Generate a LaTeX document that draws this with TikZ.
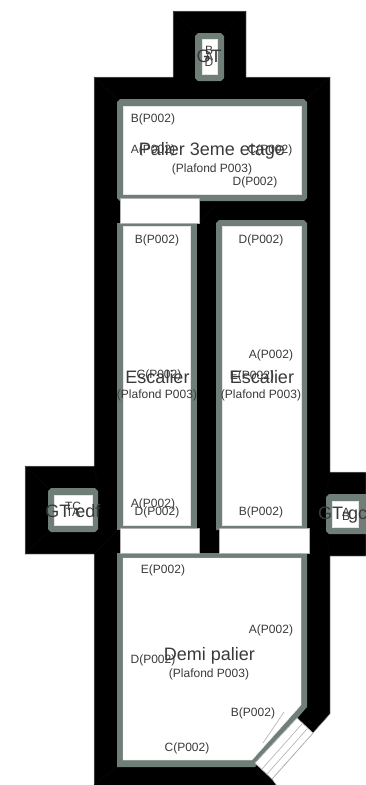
\documentclass[tikz,border=0pt]{standalone}
\usepackage{fontspec}
\setmainfont{Liberation Sans}
\definecolor{wallg}{HTML}{6F7F78}
\definecolor{txt}{HTML}{3A3A3A}
\definecolor{edge}{HTML}{B0B0B0}
\definecolor{miter}{HTML}{0E0E0E}
\tikzset{
  x=1pt,y=-1pt,
  blk/.style={fill=black,draw=edge,line width=.5pt},
  wall/.style={fill=wallg},
  room/.style={fill=white,draw=white!90!black,line width=.3pt},
  door/.style={fill=white,draw=white!70!black,line width=.7pt},
  small/.style={font=\fontsize{12}{13}\selectfont,text=txt,inner sep=0pt},
  big/.style={font=\fontsize{18}{19}\selectfont,text=txt,inner sep=0pt},
  leaf/.style={draw=edge,line width=.6pt},
  mit/.style={draw=miter,line width=.3pt}
}
\begin{document}
\begin{tikzpicture}
\useasboundingbox (0,0) rectangle (365,785);
\fill[white] (0,0) rectangle (365,785);
% black wall mass
\draw[blk] (173,11) -- (246,11) -- (246,77) -- (330,77) -- (330,472) -- (366,472) -- (366,556) -- (330,556) -- (330,714) -- (313,733) -- (272,779) -- (277,786) -- (94,786) -- (94,554) -- (25,554) -- (25,466) -- (94,466) -- (94,77) -- (173,77) -- cycle;
% faint mitres
\draw[mit] (173,11) -- (195,33) (246,11) -- (224,33) (94,77) -- (117,99) (330,77) -- (307,99);
\draw[mit] (25,466) -- (48,488) (25,554) -- (48,532) (94,466) -- (98,488) (94,785) -- (117,767);
\draw[mit] (330,472) -- (326,494) (330,556) -- (326,534) (199,223) -- (216,205) (94,554) -- (117,530);
% gray wall outlines
\fill[wall] (195,36) -- (198,33) -- (221,33) -- (224,36) -- (224,78) -- (221,81) -- (198,81) -- (195,78) -- cycle;
\fill[wall] (48,491) -- (51,488) -- (95,488) -- (98,491) -- (98,529) -- (95,532) -- (51,532) -- (48,529) -- cycle;
\fill[wall] (326,497) -- (329,494) -- (366,494) -- (366,534) -- (329,534) -- (326,531) -- cycle;
\fill[wall] (117,102) -- (120,99) -- (304,99) -- (307,102) -- (307,198) -- (304,201) -- (120,201) -- (117,198) -- cycle;
\fill[wall] (117,223) -- (197,223) -- (197,530) -- (117,530) -- cycle;
\fill[wall] (216,223) -- (219,220) -- (304,220) -- (307,223) -- (307,530) -- (216,530) -- cycle;
\fill[wall] (117,553) -- (307,553) -- (307,707) -- (255,767) -- (117,767) -- cycle;
% window
\draw[door] (297,718) -- (313,733) -- (272,779) -- (255,763) -- cycle;
\draw[leaf] (302,724) -- (262,769);
\draw[leaf] (307,729) -- (267,774);
% room interiors
\draw[room] (202,39) rectangle (217,74);
\draw[room] (54,495) rectangle (92,525);
\draw[room] (332,501) rectangle (358,527);
\draw[room] (123,106) rectangle (301,194);
\draw[room] (123,226) rectangle (190,525);
\draw[room] (222,226) rectangle (301,525);
\draw[room] (123,558) -- (301,558) -- (301,705) -- (252,760) -- (123,760) -- cycle;
\draw[leaf] (284,712) -- (263,743);
% doors
\draw[door] (120,198) rectangle (199,223);
\draw[door] (120,528) rectangle (199,553);
\draw[door] (219,528) rectangle (309,553);
% labels
\node[big] (t1) at (212,151) {Palier 3eme etage};
\node[small] (t1s) at (212,169) {(Plafond P003)};
\node[small] (a1) at (153,119) {B(P002)};
\node[small] (a2) at (153,150) {A(P002)};
\node[small] (a3) at (270,150) {C(P002)};
\node[small] (a4) at (255,182) {D(P002)};
\node[big] (t2) at (157.5,377) {Escalier};
\node[small] (t2s) at (157,395) {(Plafond P003)};
\node[small] (b1) at (157,240) {B(P002)};
\node[small] (b2) at (159,375) {C(P002)};
\node[small] (b3) at (153,504) {A(P002)};
\node[small] (b4) at (157,512) {D(P002)};
\node[big] (t3) at (262,377) {Escalier};
\node[small] (t3s) at (261,395) {(Plafond P003)};
\node[small] (c1) at (261,240) {D(P002)};
\node[small] (c2) at (271,355) {A(P002)};
\node[small] (c3) at (252,376) {E(P002)};
\node[small] (c4) at (261,512) {B(P002)};
\node[big] (t4) at (209.5,656) {Demi palier};
\node[small] (t4s) at (209,674) {(Plafond P003)};
\node[small] (d1) at (163,570) {E(P002)};
\node[small] (d2) at (271,630) {A(P002)};
\node[small] (d3) at (153,660) {D(P002)};
\node[small] (d4) at (253,713) {B(P002)};
\node[small] (d5) at (187,748) {C(P002)};
\node[big] (t5) at (209,56) {GT};
\node[small] (e1) at (209,50) {B};
\node[small] (e2) at (209,56) {A};
\node[small] (e3) at (209,62) {D};
\node[big] (t6) at (73,511) {GT edf};
\node[small] (f1) at (73,506) {TC};
\node[small] (f2) at (73,512) {TA};
\node[big,anchor=west] (t7) at (318,515) {GT gc};
\node[small] (g1) at (346,512) {A};
\node[small] (g2) at (346,516) {B};
\end{tikzpicture}
\end{document}
